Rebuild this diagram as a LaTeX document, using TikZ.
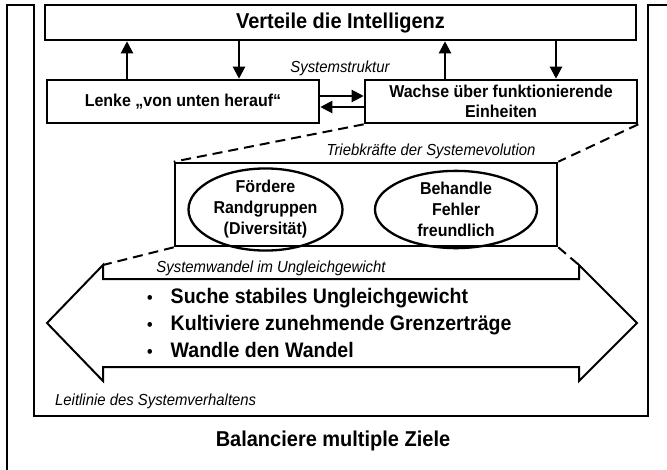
\documentclass[tikz,border=0pt]{standalone}
\usepackage{fontspec}
\setmainfont{Liberation Sans}[FakeStretch=0.93]
\usetikzlibrary{arrows.meta,shapes.geometric,calc}
\newcommand\bulletmark{{\fontsize{17}{27}\selectfont\bfseries •}}
\begin{document}
\begin{tikzpicture}[x=1pt,y=-1pt,
  frame/.style={line width=2pt,line join=miter},
  box/.style={draw,line width=2.6pt,fill=white,inner sep=0pt,align=center},
  oval/.style={draw,ellipse,line width=2.3pt,inner sep=0pt,align=center,
    font=\fontsize{17.2}{21}\selectfont\bfseries},
  flow/.style={line width=2.2pt,-{Triangle[length=12pt,width=12pt]}},
  link/.style={line width=2pt,dash pattern=on 10pt off 6pt},
  caption/.style={font=\fontsize{16}{18}\selectfont\itshape,inner sep=0pt},
  bigbold/.style={font=\fontsize{21.5}{23}\selectfont\bfseries,inner sep=0pt},
  midbold/.style={font=\fontsize{17.2}{19.5}\selectfont\bfseries}
]
\useasboundingbox (0,0) rectangle (667,469);

% outer frame and the guideline frame
\draw[frame] (7,470) -- (7,5) -- (34,5) -- (34,416) -- (648,416) -- (648,5) -- (668,5);

% system structure
\node[box,minimum width=591pt,minimum height=35pt,bigbold] (verteile) at (340.5,22.5) {Verteile die Intelligenz};
\node[box,minimum width=272pt,minimum height=43pt,midbold] (lenke) at (183,101.5) {Lenke „von unten herauf“};
\node[box,minimum width=272pt,minimum height=43pt,midbold] (wachse) at (501,101.5) {Wachse über funktionierende\\Einheiten};
\node[caption] (struktur) at (340,68) {Systemstruktur};

\coordinate (xa) at (127,0);
\coordinate (xb) at (239,0);
\coordinate (xc) at (445,0);
\coordinate (xd) at (556,0);
\coordinate (ya) at (0,96);
\coordinate (yb) at (0,107);
\draw[flow] (xa |- lenke.north) -- (xa |- verteile.south);
\draw[flow] (xb |- verteile.south) -- (xb |- lenke.north);
\draw[flow] (xc |- wachse.north) -- (xc |- verteile.south);
\draw[flow] (xd |- verteile.south) -- (xd |- wachse.north);
\draw[flow] (lenke.east |- ya) -- (wachse.west |- ya);
\draw[flow] (wachse.west |- yb) -- (lenke.east |- yb);

% drivers of evolution
\node[box,minimum width=382pt,minimum height=83pt] (trieb) at (366,204.5) {};
\node[caption] (triebtext) at (431,151) {Triebkräfte der Systemevolution};
\node[oval,minimum width=154pt,minimum height=67pt] (rand) at (265.5,209.5) {Fördere\\Randgruppen\\(Diversität)};
\node[oval,minimum width=162pt,minimum height=67pt] (fehler) at (456,209.5) {Behandle\\Fehler\\freundlich};

% change in disequilibrium
\draw[frame] (47,323) -- (103,265) -- (103,279) -- (579,279) -- (579,265) -- (637,323)
  -- (579,381) -- (579,367) -- (103,367) -- (103,381) -- cycle;
\coordinate (barbL) at (103,265);
\coordinate (barbR) at (579,265);
\node[caption] (wandel) at (271,268) {Systemwandel im Ungleichgewicht};
\node[anchor=west,inner sep=0pt,font=\fontsize{21}{27}\selectfont\bfseries] (ziele) at (147,325)
  {\begin{tabular}{@{}l@{\hspace{18pt}}l@{}}
   \bulletmark & Suche stabiles Ungleichgewicht\\
   \bulletmark & Kultiviere zunehmende Grenzerträge\\
   \bulletmark & Wandle den Wandel
   \end{tabular}};

% dashed zoom connectors
\draw[link] (wachse.south west) -- (trieb.north west);
\draw[link] (wachse.south east) -- (trieb.north east);
\draw[link] (trieb.south west) -- (barbL);
\draw[link] (trieb.south east) -- (barbR);

\node[caption,anchor=west] (leitlinie) at (55,401) {Leitlinie des Systemverhaltens};
\node[bigbold] (balance) at (333,441) {Balanciere multiple Ziele};
\end{tikzpicture}
\end{document}
